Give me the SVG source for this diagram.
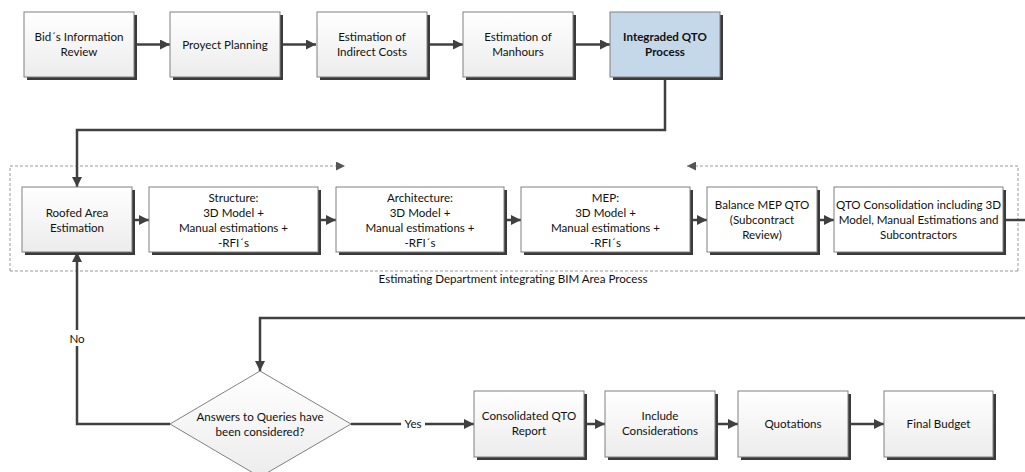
<svg xmlns="http://www.w3.org/2000/svg" width="1025" height="472" viewBox="0 0 1025 472">
<defs>
<linearGradient id="g" x1="0" y1="0" x2="0" y2="1"><stop offset="0" stop-color="#ffffff"/><stop offset="1" stop-color="#ececec"/></linearGradient>
<marker id="ah" viewBox="0 0 10 10" refX="10" refY="5" markerWidth="10" markerHeight="10" markerUnits="userSpaceOnUse" orient="auto"><path d="M0,0 L10,5 L0,10 z" fill="#404040"/></marker>
<marker id="dh" viewBox="0 0 10 10" refX="10" refY="5" markerWidth="9" markerHeight="9" markerUnits="userSpaceOnUse" orient="auto"><path d="M0,0 L10,5 L0,10 z" fill="#555"/></marker>
</defs>
<style>
.sh{fill:#3a3a3a}
.bx{fill:url(#g);stroke:#808080;stroke-width:1}
.wb{fill:#ffffff;stroke:#808080;stroke-width:1}
.bl{fill:#c5d8ea;stroke:#808080;stroke-width:1}
text{font-family:Lato,"Open Sans","Liberation Sans",sans-serif;font-size:11.6px;fill:#111;text-anchor:middle}
.b{font-weight:bold}
.c{fill:none;stroke:#404040;stroke-width:2.5}
.d{fill:none;stroke:#999;stroke-width:1;stroke-dasharray:3 2}
</style>
<rect width="1025" height="472" fill="#fff"/>
<g id="container">
<path class="d" d="M10 271 L10 166 L345 166" marker-end="url(#dh)"/>
<path class="d" d="M1018 271 L1018 166 L687 166" marker-end="url(#dh)"/>
<path class="d" d="M10 271 L1018 271"/>
<text x="513" y="283">Estimating Department integrating BIM Area Process</text>
</g>
<g id="connectors">
<line class="c" x1="134" y1="44.5" x2="170" y2="44.5" marker-end="url(#ah)"/>
<line class="c" x1="280" y1="44.5" x2="316" y2="44.5" marker-end="url(#ah)"/>
<line class="c" x1="427" y1="44.5" x2="463" y2="44.5" marker-end="url(#ah)"/>
<line class="c" x1="573" y1="44.5" x2="610" y2="44.5" marker-end="url(#ah)"/>
<path class="c" d="M665 77 L665 130 L77 130 L77 187" marker-end="url(#ah)"/>
<line class="c" x1="132" y1="220" x2="149" y2="220" marker-end="url(#ah)"/>
<line class="c" x1="318" y1="220" x2="336" y2="220" marker-end="url(#ah)"/>
<line class="c" x1="504" y1="220" x2="521" y2="220" marker-end="url(#ah)"/>
<line class="c" x1="690" y1="220" x2="707" y2="220" marker-end="url(#ah)"/>
<line class="c" x1="817" y1="220" x2="834" y2="220" marker-end="url(#ah)"/>
<line class="c" x1="1003" y1="220" x2="1025" y2="220"/>
<path class="c" d="M1025 318 L260 318 L260 371" marker-end="url(#ah)"/>
<path class="c" d="M170 424 L77 424 L77 252" marker-end="url(#ah)"/>
<rect x="68" y="330" width="18" height="16" fill="#fff"/>
<text x="77" y="343">No</text>
<path class="c" d="M351 424 L474 424" marker-end="url(#ah)"/>
<rect x="401" y="417" width="24" height="14" fill="#fff"/>
<text x="413" y="428">Yes</text>
<line class="c" x1="584" y1="424" x2="605" y2="424" marker-end="url(#ah)"/>
<line class="c" x1="715" y1="424" x2="738" y2="424" marker-end="url(#ah)"/>
<line class="c" x1="848" y1="424" x2="884" y2="424" marker-end="url(#ah)"/>
</g>
<g id="n1"><rect class="sh" x="27" y="15" width="110" height="65"/><rect class="bx" x="24" y="12" width="110" height="65"/><text x="79" y="41">Bid´s Information</text><text x="79" y="56">Review</text></g>
<g id="n2"><rect class="sh" x="173" y="15" width="110" height="65"/><rect class="bx" x="170" y="12" width="110" height="65"/><text x="225" y="49">Proyect Planning</text></g>
<g id="n3"><rect class="sh" x="320" y="15" width="110" height="65"/><rect class="bx" x="317" y="12" width="110" height="65"/><text x="372" y="41">Estimation of</text><text x="372" y="56">Indirect Costs</text></g>
<g id="n4"><rect class="sh" x="466" y="15" width="110" height="65"/><rect class="bx" x="463" y="12" width="110" height="65"/><text x="518" y="41">Estimation of</text><text x="518" y="56">Manhours</text></g>
<g id="n5"><rect class="sh" x="613" y="15" width="110" height="65"/><rect class="bl" x="610" y="12" width="110" height="65"/><text class="b" x="665" y="41">Integraded QTO</text><text class="b" x="665" y="56">Process</text></g>
<g id="n6"><rect class="sh" x="25" y="190" width="110" height="65"/><rect class="bx" x="22" y="187" width="110" height="65"/><text x="77" y="217">Roofed Area</text><text x="77" y="232">Estimation</text></g>
<g id="n7"><rect class="sh" x="152" y="190" width="169" height="65"/><rect class="wb" x="149" y="187" width="169" height="65"/><text x="233.5" y="202">Structure:</text><text x="233.5" y="217">3D Model +</text><text x="233.5" y="232">Manual estimations +</text><text x="233.5" y="247">-RFI´s</text></g>
<g id="n8"><rect class="sh" x="339" y="190" width="168" height="65"/><rect class="wb" x="336" y="187" width="168" height="65"/><text x="420" y="202">Architecture:</text><text x="420" y="217">3D Model +</text><text x="420" y="232">Manual estimations +</text><text x="420" y="247">-RFI´s</text></g>
<g id="n9"><rect class="sh" x="524" y="190" width="169" height="65"/><rect class="wb" x="521" y="187" width="169" height="65"/><text x="605.5" y="202">MEP:</text><text x="605.5" y="217">3D Model +</text><text x="605.5" y="232">Manual estimations +</text><text x="605.5" y="247">-RFI´s</text></g>
<g id="n10"><rect class="sh" x="710" y="190" width="110" height="65"/><rect class="wb" x="707" y="187" width="110" height="65"/><text x="762" y="209">Balance MEP QTO</text><text x="762" y="224">(Subcontract</text><text x="762" y="239">Review)</text></g>
<g id="n11"><rect class="sh" x="837" y="190" width="169" height="65"/><rect class="wb" x="834" y="187" width="169" height="65"/><text x="918.5" y="209">QTO Consolidation including 3D</text><text x="918.5" y="224">Model, Manual Estimations and</text><text x="918.5" y="239">Subcontractors</text></g>
<g id="n12"><polygon points="260,371 351,424 260,477 170,424" fill="url(#g)" stroke="#808080" stroke-width="1"/><text x="260" y="421">Answers to Queries have</text><text x="260" y="436">been considered?</text></g>
<g id="n13"><rect class="sh" x="477" y="394" width="110" height="66"/><rect class="bx" x="474" y="391" width="110" height="66"/><text x="529" y="420">Consolidated QTO</text><text x="529" y="435">Report</text></g>
<g id="n14"><rect class="sh" x="608" y="394" width="110" height="66"/><rect class="bx" x="605" y="391" width="110" height="66"/><text x="660" y="420">Include</text><text x="660" y="435">Considerations</text></g>
<g id="n15"><rect class="sh" x="741" y="394" width="110" height="66"/><rect class="bx" x="738" y="391" width="110" height="66"/><text x="793" y="428">Quotations</text></g>
<g id="n16"><rect class="sh" x="887" y="394" width="109" height="66"/><rect class="bx" x="884" y="391" width="109" height="66"/><text x="938.5" y="428">Final Budget</text></g>
</svg>
